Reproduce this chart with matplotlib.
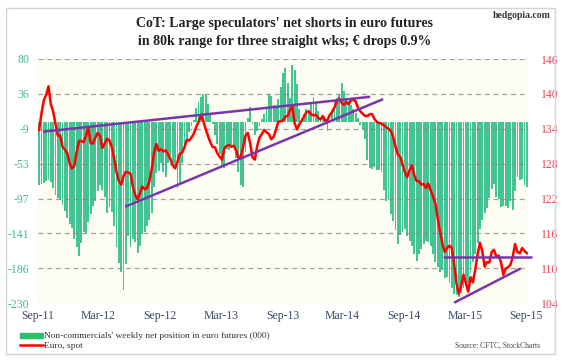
import matplotlib
matplotlib.use("Agg")
import matplotlib.pyplot as plt
from matplotlib.patches import Rectangle
from matplotlib.lines import Line2D
import numpy as np

plt.rcParams['font.family'] = ['Liberation Serif', 'DejaVu Serif']

# ---------------- data ----------------
net_position = [
    -80, -78, -77, -75, -74, -76, -84, -93, -96, -99,
    -105, -113, -122, -129, -135, -148, -159, -170, -154, -140,
    -142, -127, -117, -106, -100, -88, -80, -86, -95, -115,
    -108, -114, -132, -158, -179, -190, -213, -180, -145, -158,
    -148, -152, -166, -157, -142, -139, -132, -124, -116, -82,
    -65, -62, -52, -63, -70, -52, -43, -52, -59, -84,
    -78, -52, -35, -25, -13, -5, 2, 18, 26, 32,
    36, 35, 23, 12, -3, -16, -28, -41, -57, -58,
    -34, -36, -32, -33, -45, -63, -80, -82, -38, 5,
    19, -3, -16, -11, -5, 4, 10, 16, 35, 33,
    21, 18, 29, 45, 62, 68, 50, 31, 72, 66,
    48, 16, 5, 10, 16, 15, 24, 32, 26, 14,
    7, 5, 1, -11, 2, 15, 28, 30, 35, 50,
    40, 31, 27, 22, 17, 12, 5, -4, -9, -21,
    -48, -58, -60, -57, -61, -61, -63, -86, -100, -98,
    -117, -125, -137, -155, -143, -139, -136, -144, -151, -157,
    -167, -176, -168, -161, -155, -151, -152, -157, -168, -177,
    -184, -190, -188, -198, -196, -204, -211, -218, -219, -222,
    -217, -211, -208, -204, -192, -178, -168, -154, -136, -124,
    -115, -109, -97, -85, -78, -95, -98, -108, -107, -106,
    -109, -100, -112, -88, -70, -73, -72, -80, -83,
]

euro_spot = [
    133.8, 136.6, 138.9, 139.8, 141.3, 138.2, 137.0, 134.8, 132.8, 132.9,
    130.9, 130.4, 129.8, 128.1, 127.2, 127.6, 130.0, 131.9, 131.9, 131.7,
    132.8, 134.2, 131.5, 131.5, 132.5, 133.3, 132.8, 130.7, 131.5, 132.3,
    132.0, 130.9, 128.9, 126.6, 125.0, 124.4, 125.9, 126.6, 126.5, 126.3,
    124.0, 122.6, 121.9, 122.9, 124.1, 123.6, 123.8, 124.9, 127.0, 129.8,
    131.4, 130.2, 130.5, 130.1, 130.3, 129.6, 128.8, 127.7, 127.2, 128.3,
    129.7, 129.9, 130.8, 132.1, 132.0, 132.5, 133.2, 134.3, 135.2, 136.3,
    135.4, 134.0, 132.8, 131.7, 130.9, 130.8, 129.8, 129.2, 128.7, 130.6,
    131.1, 131.2, 130.9, 131.1, 130.3, 129.0, 129.2, 130.9, 132.8, 133.3,
    131.5, 129.1, 128.7, 131.0, 132.5, 133.1, 133.8, 133.4, 133.1, 132.2,
    132.6, 133.8, 135.2, 135.3, 135.4, 136.1, 136.2, 137.2, 138.0, 134.9,
    133.9, 134.8, 135.4, 136.1, 136.9, 137.0, 136.5, 136.3, 136.4, 135.9,
    135.6, 136.2, 135.4, 135.5, 136.4, 136.9, 137.7, 138.8, 139.2, 138.5,
    138.1, 138.6, 138.2, 138.9, 139.0, 138.7, 137.6, 137.0, 136.6, 136.2,
    136.2, 136.5, 136.5, 135.7, 135.2, 135.0, 134.9, 134.6, 134.3, 134.0,
    133.6, 132.6, 130.9, 129.6, 129.2, 127.8, 126.5, 125.7, 126.9, 127.7,
    126.0, 125.0, 125.0, 124.4, 124.5, 123.8, 124.6, 123.4, 122.4, 121.2,
    118.6, 116.3, 114.2, 112.8, 113.5, 113.9, 113.5, 110.8, 107.4, 105.6,
    107.0, 108.9, 107.5, 106.0, 108.5, 107.6, 109.8, 112.4, 114.4, 113.0,
    110.3, 111.1, 111.0, 112.8, 113.2, 112.0, 112.2, 111.0, 108.9, 110.0,
    110.2, 110.6, 112.0, 114.2, 112.8, 112.6, 113.5, 113.0, 112.6,
]

x_labels = ['Sep-11', 'Mar-12', 'Sep-12', 'Mar-13', 'Sep-13',
            'Mar-14', 'Sep-14', 'Mar-15', 'Sep-15']
x_label_pos = [-0.5, 25.3, 51.7, 77.5, 103.9, 129.3, 155.7, 181.5, 207.6]

left_tick_labels = ['-230', '-186', '-141', '-97', '-53', '-9', '36', '80']
right_ticks = [104, 110, 116, 122, 128, 134, 140, 146]

# trend lines (week index, euro level)
trend_x = [[1.7, 141.2], [36.7, 146.7], [172.3, 210.1], [177.0, 205.4]]
trend_y = [[133.5, 139.5], [120.6, 139.1], [112.0, 112.0], [104.1, 110.0]]

title_lines = ["CoT: Large speculators' net shorts in euro futures",
               "in 80k range for three straight wks; \u20ac drops 0.9%"]

# ---------------- figure ----------------
W, H = 565, 361
fig = plt.figure(figsize=(W / 100, H / 100), dpi=100)
fig.patch.set_facecolor('white')

# outer frame
fig.add_artist(Rectangle((6 / W, 7 / H), 549 / W, 346 / H, transform=fig.transFigure,
                         fill=False, edgecolor='#CDD5E0', lw=1.0))

ax = fig.add_axes([37.7 / W, 57.7 / H, 490.3 / W, 244.3 / H])
ax.set_facecolor('#FDFDF2')
weeks = np.arange(len(net_position))
ax.bar(weeks, net_position, width=0.8, color='#42C495', edgecolor='none', zorder=2)
ax.set_xlim(-0.6, 208.5)
ax.set_ylim(-230, 80)
yt = np.linspace(-230, 80, 8)
ax.set_yticks(yt)
ax.set_yticklabels(left_tick_labels, color='#45B896', fontsize=8.5)
for v in yt:
    ax.axhline(v, color='#8A8A8A', lw=0.9, ls=(0, (4, 3)), alpha=0.8, zorder=3)
ax.set_xticks([])
for s in ax.spines.values():
    s.set_visible(False)
ax.tick_params(axis='y', length=0, pad=6)

for p, lab in zip(x_label_pos, x_labels):
    ax.text(p, -0.053, lab, transform=ax.get_xaxis_transform(), ha='center',
            va='center', fontsize=8.5, color='#3E4866', clip_on=False)

ax2 = ax.twinx()
ax2.plot(weeks, euro_spot, color='#FF0000', lw=1.8, zorder=4)
for tx, ty in zip(trend_x, trend_y):
    ax2.plot(tx, ty, color='#7A35A8', lw=1.8, zorder=5, clip_on=False,
             solid_capstyle='butt')
ax2.set_ylim(104, 146)
ax2.set_yticks(right_ticks)
ax2.set_yticklabels([str(t) for t in right_ticks], color='#E24A55', fontsize=8.5)
ax2.tick_params(axis='y', length=0, pad=9)
for s in ax2.spines.values():
    s.set_visible(False)

# title and branding
fig.text(284.6 / W, 1 - 23.4 / H, title_lines[0], ha='center', va='center',
         fontsize=10, fontweight='bold', color='#222222')
fig.text(284.6 / W, 1 - 41.4 / H, title_lines[1], ha='center', va='center',
         fontsize=10, fontweight='bold', color='#222222')
fig.text(551 / W, 1 - 15 / H, 'hedgopia.com', ha='right', va='center',
         fontsize=7, fontweight='bold', color='#333333')

# legend
fig.add_artist(Rectangle((20 / W, 1 - 337.5 / H), 23 / W, 4.5 / H,
                         transform=fig.transFigure, color='#2EBF6E'))
fig.text(44 / W, 1 - 335.5 / H,
         "Non-commercials' weekly net position in euro futures (000)",
         ha='left', va='center', fontsize=6.75, color='#333333')
fig.add_artist(Line2D([20 / W, 43 / W], [1 - 344.5 / H, 1 - 344.5 / H],
                      transform=fig.transFigure, color='#FF0000', lw=1.8))
fig.text(44 / W, 1 - 345.5 / H, 'Euro, spot', ha='left', va='center',
         fontsize=6.75, color='#333333')
fig.text(540 / W, 1 - 345.5 / H, 'Source: CFTC, StockCharts', ha='right',
         va='center', fontsize=5.5, color='#444444')

fig.savefig('out.png', dpi=100)
